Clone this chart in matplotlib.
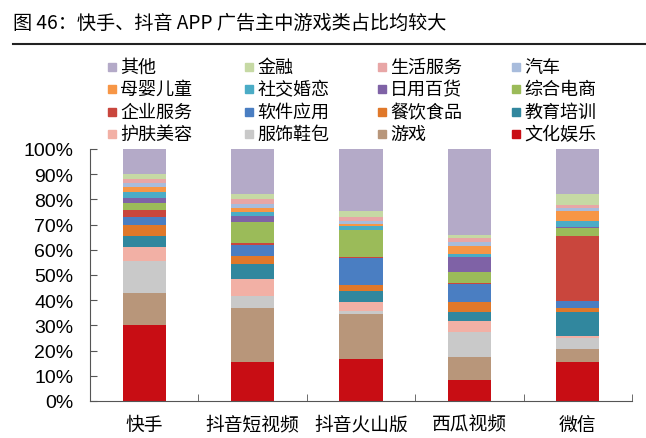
import numpy as np
import matplotlib
matplotlib.use("Agg")
import matplotlib.pyplot as plt
from matplotlib.patches import Rectangle
from matplotlib.lines import Line2D

plt.rcParams['font.family'] = ['Noto Sans CJK SC', 'DejaVu Sans']

title = "图 46：快手、抖音 APP 广告主中游戏类占比均较大"
apps = ["快手", "抖音短视频", "抖音火山版", "西瓜视频", "微信"]

# stack order, bottom to top (values in %)
wenhua = [30.2, 15.6, 16.7, 8.5, 15.3]
youxi = [12.9, 21.2, 17.6, 8.8, 5.3]
fushi = [12.4, 5.0, 1.5, 10.2, 4.3]
hufu = [5.7, 6.6, 3.6, 4.4, 1.0]
jiaoyu = [4.6, 6.0, 4.4, 3.5, 9.3]
canyin = [4.0, 3.3, 2.0, 3.8, 1.6]
ruanjian = [3.3, 4.2, 10.8, 7.2, 3.0]
qiye = [3.0, 0.8, 0.4, 0.4, 25.8]
zonghe = [2.7, 8.5, 10.6, 4.3, 3.1]
riyong = [1.8, 2.1, 0.3, 5.9, 0.5]
shejiao = [2.7, 1.8, 1.6, 1.3, 2.4]
muying = [1.7, 1.4, 0.6, 3.1, 3.9]
qiche = [1.7, 1.7, 1.4, 1.8, 1.0]
shenghuo = [1.6, 2.0, 1.3, 1.4, 1.3]
jinrong = [2.0, 1.9, 2.6, 1.4, 4.3]
qita = [9.9, 17.9, 24.5, 34.0, 17.9]

series = [
    ("文化娱乐", wenhua, "#c80d14"),
    ("游戏", youxi, "#b8967a"),
    ("服饰鞋包", fushi, "#c9c9c9"),
    ("护肤美容", hufu, "#f2b0a5"),
    ("教育培训", jiaoyu, "#31879e"),
    ("餐饮食品", canyin, "#e0782a"),
    ("软件应用", ruanjian, "#4a7ec2"),
    ("企业服务", qiye, "#c9463d"),
    ("综合电商", zonghe, "#9bbb59"),
    ("日用百货", riyong, "#7f62a6"),
    ("社交婚恋", shejiao, "#4bacc6"),
    ("母婴儿童", muying, "#f79646"),
    ("汽车", qiche, "#a8bcdc"),
    ("生活服务", shenghuo, "#e8a6a6"),
    ("金融", jinrong, "#c6d9a4"),
    ("其他", qita, "#b4aac8"),
]

data = np.array([s[1] for s in series], dtype=float)
data = data / data.sum(axis=0) * 100

fig = plt.figure(figsize=(6.46, 4.39), dpi=100)
ax = fig.add_axes([90 / 646, 1 - 402 / 439, 542 / 646, 252 / 439])

x = np.arange(len(apps))
bottom = np.zeros(len(apps))
for (name, _, color), vals in zip(series, data):
    ax.bar(x, vals, 0.4, bottom=bottom, color=color, label=name)
    bottom += vals

ax.set_xlim(-0.5, len(apps) - 0.5)
ax.set_ylim(0, 100)
ax.set_yticks(np.arange(0, 101, 10))
ax.set_yticklabels([f"{v}%" for v in range(0, 101, 10)],
                   fontsize=14, family=['Liberation Sans', 'DejaVu Sans'])
ax.set_xticks(x)
ax.set_xticklabels(apps, fontsize=13.5)
ax.set_xticks(np.arange(-0.5, len(apps)), minor=True)
ax.tick_params(axis='x', which='major', length=0, pad=9)
ax.tick_params(axis='x', which='minor', direction='in', length=5, color='#555555')
ax.tick_params(axis='y', direction='in', length=5, color='#555555', pad=12)
for s in ['top', 'right']:
    ax.spines[s].set_visible(False)
for s in ['left', 'bottom']:
    ax.spines[s].set_color('#555555')

# title and rule
fig.text(13 / 646, 1 - 23 / 439, title, fontsize=13.8, va='center', ha='left')
fig.add_artist(Line2D([13 / 646, 1], [1 - 45 / 439] * 2, color='#222222', lw=1.5))

# legend, row-wise from top of stack
leg_items = series[::-1]
col_x = [108, 245, 378, 512]
row_y = [68, 90, 113, 135]
for i, (name, _, color) in enumerate(leg_items):
    r, c = divmod(i, 4)
    px, py = col_x[c], row_y[r]
    fig.add_artist(Rectangle((px / 646, 1 - (py + 4) / 439), 8 / 646, 8 / 439,
                             color=color, transform=fig.transFigure))
    fig.text((px + 12) / 646, 1 - py / 439, name, fontsize=13, va='center', ha='left')

fig.savefig("out.png", dpi=100)
